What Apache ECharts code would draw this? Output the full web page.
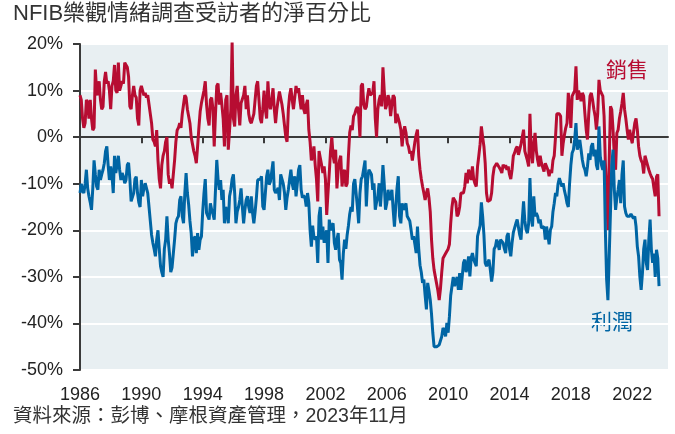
<!DOCTYPE html>
<html>
<head>
<meta charset="utf-8">
<script src="https://cdn.jsdelivr.net/npm/echarts@6/dist/echarts.min.js"></script>
<style>
  html, body { margin: 0; padding: 0; background: #fff; }
  #main { width: 675px; height: 434px; }
</style>
</head>
<body>
<div id="main"></div>
<script>
// NFIB 銷售 / 利潤 淨百分比, 月度, 1986-01 起
const sales = [
  9, 8, 4, 2, 3, 8, 7.5, 4, 8, 4, 1.5, 2,
  14.5, 10, 9, 12, 8, 6, 6.5, 12, 14, 11.5, 12, 10,
  6, 11, 12, 15.5, 10, 9.5, 16, 10, 11, 12, 11.5, 16,
  16, 15, 13, 6.6, 6, 9, 11, 9, 8.5, 4, 2.5, 10,
  11, 10, 9, 9.5, 8.5, 9, 7, 5, 3, -0.5, -1, -2,
  1.5, -5, -9, -11, -6, -4, -3, -1, 0, -8, -10, -9,
  -11, -8, -5, -1, 1.5, 2, 3, 2, 5, 7, 9, 8.5,
  6, 4.5, 3, 0, -1.5, -3, -4, -5.6, -2, 2, 5.5, 7.3,
  7, 10, 12, 7, 4, 2.5, 8, 8.5, 6, -2, 5, 11,
  11.5, 7, 9.5, 7, 4, -2, 8, 9, -2.7, 1.5, 6, 20.5,
  4, 2.3, 9, 11, 6, 2.5, 7.3, 7, 9, 11, 6, 9,
  5, 3.5, 3, 3, 5, 8, 11, 12, 8, 4, 3, 6,
  10, 6, 4, 12, 7.3, 6, 8, 10.5, 6, 3, 6, 8,
  9.8, 10, 7, 5, 2.5, 0, -1, 6, 9, 10.5, 8, 6,
  6, 11, 9.5, 10.5, 8, 6, 9, 6, 5, 7, 8, 1.6,
  -1, -5, -4, -2, -6, -9, -13.8, -3, -4.5, -6, -7.7, -6.3,
  -9, -16.7, -12, -7.7, -3, 0, -4, -5.6, -2.7, -11, -7, -5,
  -4, -10.6, -8, -7, -10.6, -10, -4, 1, 2.5, 1.5, 4.5, 5,
  6, 6.5, 5, 0, 11, 11.5, 7, 6, 6.5, 8.8, 10.5, 9,
  9, 9.5, 12, 4, 0, 6, 8, 9, 6.6, 15, 10, 6,
  7, 9, 8, 4.5, 7, 9, 8.5, 3, 5, 4, 3, 1.6,
  -2, 1, 2.3, 1, -1.3, -2, -3.5, -3, -5, -3, -1, 0.5,
  1.6, -4, -7, -9, -10.6, -12, -13.5, -12, -11, -13, -16, -22,
  -26, -28.5, -30, -31.5, -33, -35, -32.5, -29, -26, -25.6, -25, -24.5,
  -24, -23, -18.5, -15, -13, -12.7, -14, -17, -16.5, -15, -12, -12,
  -12, -10.6, -7.7, -9.9, -7, -8, -9.2, -6.3, -9, -10, -10.6, -6.3,
  -4, -1.5, 2.3, 0, -2, -5.6, -12, -13.8, -14, -13.5, -12, -8.4,
  -6.5, -6.3, -5.6, -5.9, -6.5, -7, -7.7, -5.9, -6.6, -6, -7, -6.3,
  -8, -9, -7, -4, -3.4, -2.5, -2, -3.8, -2.7, -1.5, -1.3, 1.6,
  -3, -4, -5, -6.3, 5, -3, -5.6, -1.3, 0.9, -3, -4.9, -6.3,
  -4, -5.6, -6.5, -7.4, -5.6, -6.3, -7, -8.4, -7, -7.7, -5, -4,
  0, 5, 5.4, 5, 4.5, -4, -1.3, 0.5, 2, 3, 9.5, 6.6,
  2, 8.8, 9, 10, 15.2, 8, 10, 9, 7.7, 9.5, 8.8, 5,
  1.6, -0.5, 5, 8.8, 9.5, 8, 6, 4.5, 1.6, 5, 12.3, 10,
  10, 8.8, 4.5, -5.6, -12, -20, -5, 6.6, 5.9, 1.6, -4, -7,
  0.9, 1.6, 4, 5.5, 7.3, 9.5, 6, 4, 1.6, -0.5, 1.6, 0,
  -1.3, 1, 3, 4, 1.6, -2, -4, -5, -5.6, -7.8, -4, -5,
  -6, -7, -7.8, -8.5, -9, -11, -12.7, -8.5, -8, -17
]
const profits = [
  -12, -10, -11.5, -12, -10, -7, -11, -12.7, -14, -15.6, -11, -5,
  -8, -10.6, -11.3, -7, -9.2, -8, -7, -5.6, -3, -2, -6, -9.2,
  -6.3, -8, -12, -4, -7.7, -6, -4, -7, -9.2, -7.7, -8.5, -9.9,
  -9.2, -6, -5.5, -9, -13.8, -13.8, -12, -9, -8.5, -12, -14, -15,
  -9.2, -12.7, -11, -9.9, -10.2, -12, -15, -18, -21, -22.7, -24, -25.6,
  -22, -20, -24, -27.7, -29, -30, -24, -22, -17, -22, -25, -29,
  -28, -25, -22, -18.5, -17.5, -17, -13.5, -12.7, -17, -18.5, -12, -7.7,
  -12, -14.5, -18, -20.6, -25.6, -22, -21.3, -24.9, -20.6, -24.2, -22, -21.3,
  -16, -12, -9, -16.3, -16, -17.7, -14.2, -15.6, -16.5, -17.7, -11.3, -4.9,
  -9, -11.3, -9.2, -13.5, -11.3, -18.5, -15, -16, -18.5, -12.7, -11.3, -9,
  -8, -12, -18.5, -16, -15, -13.5, -11, -15, -18.5, -15.6, -13.5, -12.7,
  -15, -16.3, -12.7, -16.3, -18.5, -16, -13, -9.2, -9.5, -9, -8.4, -14.9,
  -15.6, -12, -8.4, -7, -10.2, -9.5, -9.2, -5.2, -11.3, -12, -11.5, -10.9,
  -13.5, -8, -8, -10, -12, -15.6, -13, -11.3, -9, -7, -10, -11.3,
  -8.4, -12.7, -10, -7, -6, -11.3, -13, -12.5, -13, -14.9, -12, -14,
  -20, -23.5, -19, -21.5, -22, -21.3, -27, -17, -15, -22, -19.2, -22.7,
  -21, -20, -27, -17.7, -20, -19, -18.5, -22.7, -24.2, -22, -20.6, -26.3,
  -27, -30.6, -25, -22, -24, -21, -19, -16.5, -15, -16, -10, -9,
  -12, -14.9, -18.5, -12, -9, -8.4, -8, -5, -14.9, -9.2, -7, -7.5,
  -8, -11.3, -9.9, -15.6, -14, -12.7, -9.9, -14.9, -11, -6, -10, -15.6,
  -14.2, -11.3, -13.5, -12.5, -11.3, -15.6, -19.2, -15, -11, -8.4, -17, -18.5,
  -14.2, -15.6, -15, -14.2, -17, -17, -18, -19.9, -22, -21.3, -23, -24.9,
  -19.2, -24, -27.5, -29, -31.3, -30.6, -34, -37, -31.3, -33, -34.9, -38,
  -42, -45, -44.6, -45, -45, -44.6, -45, -42.8, -41, -41.5, -42.8, -39.9,
  -42, -38.5, -34, -32, -30, -32, -31, -30, -32.8, -29.2, -32.8, -30,
  -27, -26.3, -29, -28, -25.6, -29.9, -26, -24.9, -26.3, -27, -27.7, -21.3,
  -21, -19, -14, -17, -21, -27, -27.7, -27, -26.3, -28.5, -31, -29,
  -24, -23.5, -22, -23, -24.2, -22, -21.7, -22.7, -24, -24.9, -21.3, -20.6,
  -24, -25.6, -22.7, -20.5, -19.5, -18.5, -17.7, -18.1, -21, -22, -17.7, -13.8,
  -18, -19.9, -20.6, -18.5, -8.8, -17, -19.2, -12.7, -17, -16.3, -17, -18.5,
  -17.7, -19.5, -19.9, -19.2, -22, -19.2, -21, -23, -19.9, -19.2, -16, -14.2,
  -12, -12.7, -10, -8.8, -9.2, -10.6, -9.9, -11.5, -12.7, -14.2, -15, -10,
  -6, -3.4, -2.7, -0.5, 3, -2.7, -1.5, -0.6, -2.7, -4.9, -6.3, -7,
  -8.4, -6.3, -3.5, -4.9, -2, -1.3, -4.1, -2.7, -6, -7, 2.3, -4.1,
  -6, -7, -5, -20, -30.6, -35, -25.6, -16, -6, -2.7, -11.3, -15.6,
  -13, -11.3, -9.2, -14.2, -8, -5, -14.9, -16.3, -17, -17, -17, -16.5,
  -17, -17.5, -17, -19.2, -23.5, -25.6, -30, -32.8, -29.2, -24, -22, -27,
  -28.5, -22, -17.7, -24.2, -27, -25, -30, -24.2, -26, -32
]
const yTicks = [-50, -40, -30, -20, -10, 0, 10, 20]

// 月份類別 1986-01 … 2024-05 (右邊留白)
const months = []
for (let y = 1986; y <= 2024; y++) {
  for (let m = 1; m <= 12; m++) {
    if (y === 2024 && m > 5) break
    months.push(y + '-' + (m < 10 ? '0' + m : m))
  }
}
const everyFourYears = (idx) => idx % 48 === 0

const chart = echarts.init(document.getElementById('main'))
chart.setOption({
  animation: false,
  title: {
    text: 'NFIB樂觀情緒調查受訪者的淨百分比',
    left: 13,
    top: 3,
    padding: 0,
    textStyle: { fontSize: 22, fontWeight: 'normal', color: '#333', fontFamily: 'Liberation Sans, Noto Sans CJK TC' }
  },
  grid: {
    left: 80, right: 7, top: 44, bottom: 64,
    show: true, backgroundColor: '#e8eff2', borderWidth: 0
  },
  xAxis: [
    {
      type: 'category',
      data: months,
      boundaryGap: false,
      axisLine: { show: false, onZero: false },
      axisTick: { show: false },
      axisLabel: {
        interval: everyFourYears,
        formatter: (v) => v.slice(0, 4),
        fontSize: 18,
        color: '#222',
        margin: 16,
        fontFamily: 'Liberation Sans'
      },
      splitLine: { show: false }
    },
    {
      type: 'category',
      data: months,
      boundaryGap: false,
      position: 'bottom',
      axisLine: { show: true, onZero: true, lineStyle: { color: '#3a3a3a', width: 2 } },
      axisTick: { show: true, interval: everyFourYears, length: 6, lineStyle: { color: '#3a3a3a', width: 2 } },
      axisLabel: { show: false },
      splitLine: { show: false }
    }
  ],
  yAxis: {
    type: 'value',
    min: yTicks[0],
    max: yTicks[yTicks.length - 1],
    interval: 10,
    axisLine: { show: true, lineStyle: { color: '#3a3a3a', width: 2 } },
    axisTick: { show: true, length: 7, lineStyle: { color: '#3a3a3a', width: 2 } },
    splitLine: { show: true, lineStyle: { color: '#ffffff', width: 2 } },
    axisLabel: {
      formatter: '{value}%',
      fontSize: 18,
      color: '#222',
      margin: 17,
      fontFamily: 'Liberation Sans'
    }
  },
  series: [
    {
      name: '銷售',
      type: 'line',
      xAxisIndex: 0,
      data: sales,
      showSymbol: false,
      lineStyle: { color: '#b70d32', width: 3 },
      itemStyle: { color: '#b70d32' },
      z: 3
    },
    {
      name: '利潤',
      type: 'line',
      xAxisIndex: 0,
      data: profits,
      showSymbol: false,
      lineStyle: { color: '#0065a4', width: 3 },
      itemStyle: { color: '#0065a4' },
      z: 4
    }
  ],
  graphic: [
    {
      type: 'text', left: 606, top: 59,
      style: { text: '銷售', fontSize: 21, fill: '#b70d32', fontFamily: 'Noto Sans CJK TC' }
    },
    {
      type: 'text', left: 591, top: 311,
      style: { text: '利潤', fontSize: 21, fill: '#0065a4', fontFamily: 'Noto Sans CJK TC' }
    },
    {
      type: 'text', left: 13, top: 407,
      style: { text: '資料來源：彭博、摩根資產管理，2023年11月', fontSize: 19.5, fill: '#333', fontFamily: 'Liberation Sans, Noto Sans CJK TC' }
    }
  ]
})
</script>
</body>
</html>
